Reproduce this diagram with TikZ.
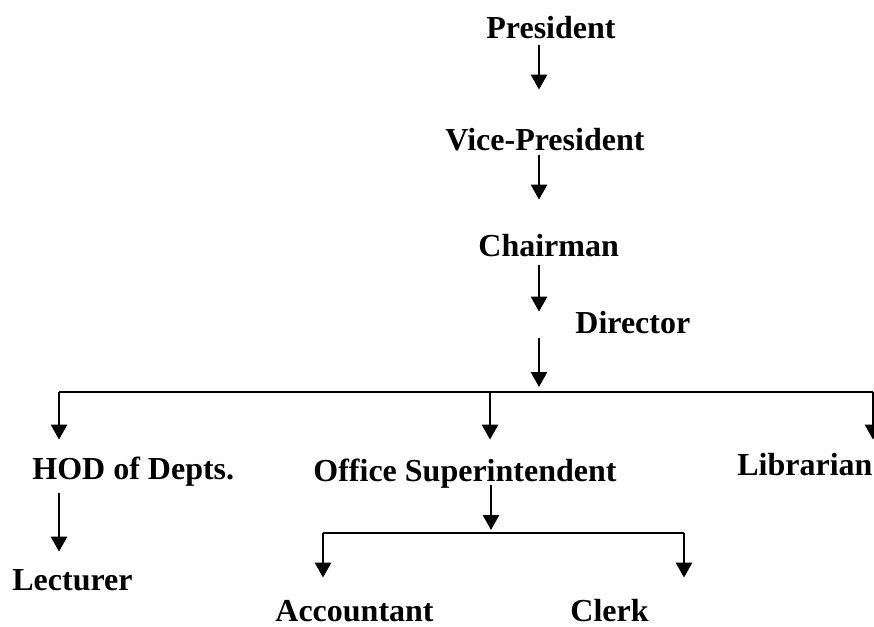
\documentclass[tikz,border=0pt]{standalone}
\usepackage{fontspec}
\setmainfont{Liberation Serif}
\usetikzlibrary{arrows.meta}

\begin{document}
\begin{tikzpicture}[x=0.5pt, y=-0.5pt,
		post/.style={font=\bfseries\fontsize{16}{19}\selectfont, inner sep=0pt, text height=11pt, text depth=0pt, anchor=base west},
		arr/.style={line width=1.35pt, -{Triangle[width=8pt, length=7.5pt]}},
		bar/.style={line width=1.2pt}]
		\clip (0,0) rectangle (874,627);
		\node[post] (pres) at (486,38) {President};
		\node[post] (vp) at (445,150) {Vice-President};
		\node[post] (chair) at (478,256) {Chairman};
		\node[post] (dir) at (575,333) {Director};
		\node[post] (hod) at (32,479) {HOD of Depts.};
		\node[post] (os) at (313,481) {Office Superintendent};
		\node[post] (lib) at (737,475) {Librarian};
		\node[post] (lec) at (12,590) {Lecturer};
		\node[post] (acc) at (275,621) {Accountant};
		\node[post] (clerk) at (570,621) {Clerk};
		\coordinate (spine) at (539,0);
		\coordinate (jn) at (539,392);
		\coordinate (dh) at (59,392);
		\coordinate (dos) at (490,392);
		\coordinate (dlib) at (873,392);
		\coordinate (osjn) at (491,533);
		\coordinate (dacc) at (323,533);
		\coordinate (dclk) at (684,533);
		\draw[arr, shorten <=3.5pt, shorten >=19pt] (pres.south -| spine) -- (vp.north -| spine);
		\draw[arr, shorten <=2.5pt, shorten >=17pt] (vp.south -| spine) -- (chair.north -| spine);
		\draw[arr, shorten <=4.5pt, shorten >=-0.5pt] (chair.south -| spine) -- (dir.north -| spine);
		\draw[arr, shorten <=2.5pt, shorten >=2.5pt] (dir.south -| spine) -- (jn);
		\draw[bar] (dh) -- (dlib);
		\draw[arr, shorten >=8.5pt] (dh) -- (hod.north -| dh);
		\draw[arr, shorten >=9.5pt] (dos) -- (os.north -| dos);
		\draw[arr, shorten >=6.5pt] (dlib) -- (lib.north -| dlib);
		\draw[arr, shorten <=7pt, shorten >=8pt] (hod.south -| dh) -- (lec.north -| dh);
		\draw[arr, shorten <=2pt, shorten >=1.5pt] (os.south -| osjn) -- (osjn);
		\draw[bar] (dacc) -- (dclk);
		\draw[arr, shorten >=10.5pt] (dacc) -- (acc.north -| dacc);
		\draw[arr, shorten >=10.5pt] (dclk) -- (clerk.north -| dclk);
	\end{tikzpicture}
\end{document}
